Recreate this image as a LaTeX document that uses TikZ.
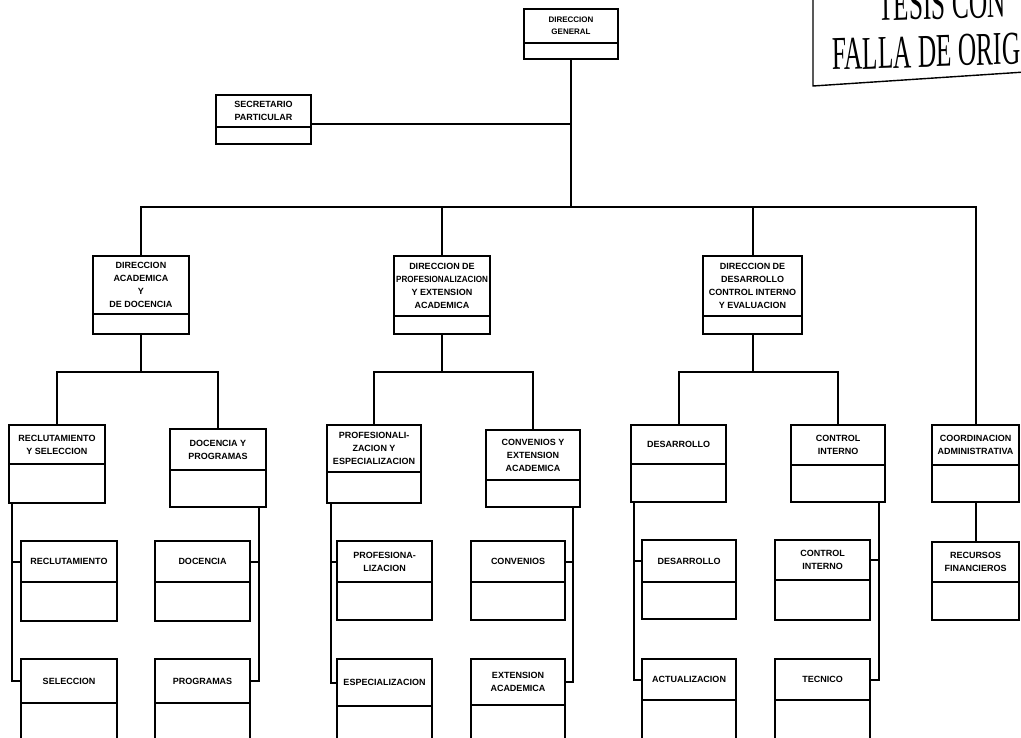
\documentclass[tikz,border=0pt]{standalone}
\usepackage{fontspec}
\usepackage{graphicx}
\usepackage{tikz}
\usetikzlibrary{fit}
\setmainfont{Liberation Sans}
\newfontfamily\stampfont{Liberation Serif}

% box with a rule under its title: name, left, top, right, bottom, rule, title
\newcommand{\orgunit}[8][]{%
  \node[unit, fit={(#3,#4) (#5,#6)}] (#2) {};
  \draw[divider] (#3,#7) -- (#5,#7);
  \node[caption,#1] (#2-t) at ({(#3+#5)/2},{(#4+#7)/2}) {#8};
}

\begin{document}
\begin{tikzpicture}[
            x = 1pt, y = -1pt, % pixel grid, y runs downward
            unit/.style = {draw, line width=2pt, inner sep=0pt},
            divider/.style = {line width=1.7pt},
            caption/.style = {font=\fontsize{9}{13}\selectfont\bfseries, align=center, inner sep=0pt},
            link/.style = {line width=2pt},
            stamptext/.style = {font=\stampfont\fontsize{47}{47}\selectfont, xscale=0.54, rotate=1, transform shape, inner sep=0pt, anchor=base west}
        ]
\useasboundingbox (0,0) rectangle (1021,738);
\clip (0,0) rectangle (1021,738);

% top
\orgunit[font=\fontsize{8}{12}\selectfont\bfseries]{gen}{524}{9}{618}{59}{43}{DIRECCION\\GENERAL}
\orgunit{sec}{216}{95}{311}{144}{127}{SECRETARIO\\PARTICULAR}

% directions
\orgunit{acad}{93}{256}{189}{334}{314}{DIRECCION\\ACADEMICA\\Y\\DE DOCENCIA}
\orgunit{prof}{394}{256}{490}{334}{316}{DIRECCION DE\\\scalebox{0.9}[1]{PROFESIONALIZACION}\\Y EXTENSION\\ACADEMICA}
\orgunit{des}{703}{256}{802}{334}{316}{DIRECCION DE\\DESARROLLO\\CONTROL INTERNO\\Y EVALUACION}
\orgunit{coord}{932}{425}{1019}{502}{465}{COORDINACION\\ADMINISTRATIVA}
\orgunit{recu}{932}{542}{1019}{620}{582}{RECURSOS\\FINANCIEROS}

% departments
\orgunit{rys}{9}{425}{105}{503}{464}{RECLUTAMIENTO\\Y SELECCION}
\orgunit{dyp}{170}{429}{266}{507}{470}{DOCENCIA Y\\PROGRAMAS}
\orgunit{pye}{327}{425}{421}{503}{472}{PROFESIONALI-\\ZACION Y\\ESPECIALIZACION}
\orgunit{cye}{486}{430}{580}{507}{480}{CONVENIOS Y\\EXTENSION\\ACADEMICA}
\orgunit{desa}{631}{425}{726}{502}{464}{DESARROLLO}
\orgunit{ci}{791}{425}{885}{502}{465}{CONTROL\\INTERNO}

% offices
\orgunit{recl}{21}{541}{117}{621}{582}{RECLUTAMIENTO}
\orgunit{sele}{21}{659}{117}{760}{703}{SELECCION}
\orgunit{doce}{155}{541}{250}{621}{582}{DOCENCIA}
\orgunit{prog}{155}{659}{250}{760}{703}{PROGRAMAS}
\orgunit{profe}{337}{541}{432}{620}{582}{PROFESIONA-\\LIZACION}
\orgunit{espe}{337}{659}{432}{760}{706}{ESPECIALIZACION}
\orgunit{conv}{471}{541}{565}{620}{582}{CONVENIOS}
\orgunit{exte}{471}{659}{565}{760}{705}{EXTENSION\\ACADEMICA}
\orgunit{desb}{642}{540}{736}{619}{582}{DESARROLLO}
\orgunit{actu}{642}{659}{736}{760}{700}{ACTUALIZACION}
\orgunit{cint}{775}{540}{870}{620}{580}{CONTROL\\INTERNO}
\orgunit{tecn}{775}{659}{870}{760}{700}{TECNICO}

% main bus
\coordinate (bus) at (571,207);
\draw[link] (gen.south) -- (bus);
\draw[link] ([yshift=-5pt]sec.east) -- ([yshift=-5pt]sec.east -| gen.south);
\draw[link] (acad.north) |- (bus) -| (coord.north);
\draw[link] (prof.north) -- (prof.north |- bus);
\draw[link] (des.north) -- (des.north |- bus);

% second level buses
\draw[link] (acad.south) -- ++(0,37) coordinate (acadbus);
\draw[link] (rys.north) |- (acadbus) -| (dyp.north);
\draw[link] (prof.south) -- ++(0,37) coordinate (profbus);
\draw[link] (pye.north) |- (profbus) -| (cye.north);
\draw[link] (des.south) -- ++(0,37) coordinate (desbus);
\draw[link] (desa.north) |- (desbus) -| (ci.north);
\draw[link] (coord.south) -- (recu.north);

% side rails
\draw[link] ([xshift=4pt]rys.south west) |- (recl-t -| recl.west);
\draw[link] ([xshift=4pt]rys.south west) |- (sele-t -| sele.west);
\draw[link] ([xshift=-8pt]dyp.south east) |- (doce-t -| doce.east);
\draw[link] ([xshift=-8pt]dyp.south east) |- (prog-t -| prog.east);
\draw[link] ([xshift=5pt]pye.south west) |- (profe-t -| profe.west);
\draw[link] ([xshift=5pt]pye.south west) |- (espe-t -| espe.west);
\draw[link] ([xshift=-8pt]cye.south east) |- (conv-t -| conv.east);
\draw[link] ([xshift=-8pt]cye.south east) |- (exte-t -| exte.east);
\draw[link] ([xshift=4pt]desa.south west) |- (desb-t -| desb.west);
\draw[link] ([xshift=4pt]desa.south west) |- (actu-t -| actu.west);
\draw[link] ([xshift=-7pt]ci.south east) |- (cint-t -| cint.east);
\draw[link] ([xshift=-7pt]ci.south east) |- (tecn-t -| tecn.east);

% stamp
\draw[line width=1.4pt] (813,-2) -- (813,86) -- (1025,72);
\node[stamptext] (tesis) at (878,21) {TESIS CON};
\node[stamptext] (falla) at (832,70) {FALLA DE ORIG};

\end{tikzpicture}
\end{document}
